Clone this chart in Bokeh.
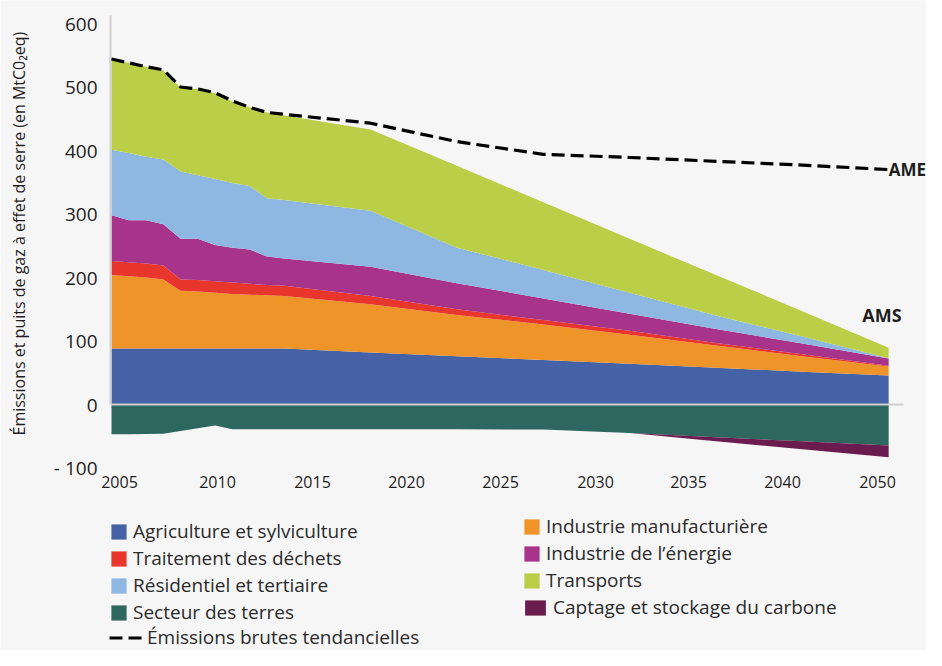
import math
from bokeh.plotting import figure
from bokeh.models import (ColumnDataSource, Range1d, FixedTicker, Legend,
                          LegendItem, Label)
from bokeh.embed import file_html
from bokeh.resources import INLINE

# ---------------- data (MtCO2eq) ----------------
YEARS = [2005, 2006, 2007, 2008, 2009, 2010, 2011, 2012, 2013, 2014, 2015,
         2020, 2025, 2030, 2035, 2040, 2045, 2050]

agriculture = [88, 88, 88, 88, 88, 88, 88, 88, 88, 88, 88, 82, 76, 70, 64, 58, 51.5, 45.5]
industrie_manuf = [116, 114, 112, 109, 91, 90, 88, 86, 85, 84, 83, 76, 65, 56, 46, 35, 24.5, 14.5]
dechets = [22, 22, 22, 22, 18, 18, 18, 18, 17, 16, 16, 13, 9, 7, 6, 4, 3, 1]
energie = [72, 66, 68, 65, 64, 65, 57, 55, 54, 45, 43, 46, 41, 34, 27, 22, 17, 11.5]
residentiel = [103, 106, 100, 102, 106, 100, 104, 102, 100, 92, 92, 88, 56, 45, 33, 21, 11, 0.5]
transports = [142, 142, 142, 140, 132, 136, 135, 128, 124, 135, 133, 128, 129, 106.5, 85, 64, 40, 16.5]

terres = [-47, -47, -46.5, -46, -41.7, -37.3, -33, -39, -39, -39, -39, -39, -39, -39.5, -45, -51.5, -58, -64.5]
captage = [0, 0, 0, 0, 0, 0, 0, 0, 0, 0, 0, 0, 0, 0, 0, -6.3, -12.5, -18.5]

ame = [544, 538, 532, 527, 500, 497, 491, 478, 468, 460, 457, 443, 414, 394, 389, 383, 377, 370]

Y_TICKS = [-100, 0, 100, 200, 300, 400, 500, 600]
Y_TICK_LABELS = ["- 100", "0", "100", "200", "300", "400", "500", "600"]
X_TICK_LABELS = ["2005", "2010", "2015", "2020", "2025", "2030", "2035", "2040", "2050"]

LABELS_POS = ["Agriculture et sylviculture", "Industrie manufacturière",
              "Traitement des déchets", "Industrie de l’énergie",
              "Résidentiel et tertiaire", "Transports"]
LABELS_NEG = ["Secteur des terres", "Captage et stockage du carbone"]
LABEL_AME = "Émissions brutes tendancielles"
Y_TITLE = "Émissions et puits de gaz à effet de serre (en MtC0₂eq)"

COLORS_POS = ["#4562a7", "#ef9428", "#e8362d", "#a8338b", "#8eb8e2", "#bace48"]
COLORS_NEG = ["#2e6660", "#6b1c4f"]

FONT = "Open Sans"
BG = "#f6f6f6"
TXT = "#1e1e1e"

# ---------------- layout (pixel geometry of the canvas) ----------------
W, H = 926, 650
X0_PX, PX_PER_YEAR = 111.0, 17.27      # pixel of year 2005, pixels per year
Y0_PX, PX_PER_UNIT = 404.0, 0.635      # pixel of value 0, pixels per MtCO2eq
X_TICK_PX = [119, 217, 312, 406, 500, 595, 688, 782, 877]


def dx(px):
    return YEARS[0] + (px - X0_PX) / PX_PER_YEAR


def dy(py):
    return (Y0_PX - py) / PX_PER_UNIT


x_tick_pos = [dx(v) for v in X_TICK_PX]

src = ColumnDataSource(dict(
    year=YEARS, agri=agriculture, manuf=industrie_manuf, dech=dechets,
    ener=energie, resi=residentiel, trans=transports,
    terres=terres, ccs=captage, ame=ame))

p = figure(width=W, height=H, output_backend="svg", toolbar_location=None,
           x_range=Range1d(dx(0), dx(W)), y_range=Range1d(dy(H), dy(0)),
           min_border=0, min_border_left=0, min_border_right=0,
           min_border_top=0, min_border_bottom=0,
           background_fill_color=BG, border_fill_color=BG, outline_line_color=None)

pos = p.varea_stack(["agri", "manuf", "dech", "ener", "resi", "trans"], x="year",
                    color=COLORS_POS, source=src)
neg = p.varea_stack(["terres", "ccs"], x="year", color=COLORS_NEG, source=src)

# axis lines: vertical from 0 to the top, zero line across the plot
axis_x = dx(110)
p.segment(x0=[axis_x], y0=[0], x1=[axis_x], y1=[dy(15)],
          line_color="#d0d0d0", line_width=2)
p.segment(x0=[axis_x], y0=[0], x1=[dx(903)], y1=[0],
          line_color="#d0d0d0", line_width=2)

ame_r = p.line(x="year", y="ame", source=src, line_color="#000000", line_width=3.2,
               line_dash="13 6")

p.xgrid.visible = False
p.ygrid.visible = False

xa = p.xaxis[0]
xa.fixed_location = Y_TICKS[0]
xa.ticker = FixedTicker(ticks=x_tick_pos)
xa.major_label_overrides = {t: l for t, l in zip(x_tick_pos, X_TICK_LABELS)}
xa.axis_line_color = None
xa.major_tick_line_color = None
xa.minor_tick_line_color = None
xa.major_tick_out = 0
xa.major_tick_in = 0
xa.major_label_standoff = 8
xa.major_label_text_font = FONT
xa.major_label_text_font_size = "16px"
xa.major_label_text_color = TXT

ya = p.yaxis[0]
ya.fixed_location = axis_x
ya.ticker = FixedTicker(ticks=Y_TICKS)
ya.major_label_overrides = {t: l for t, l in zip(Y_TICKS, Y_TICK_LABELS)}
ya.axis_line_color = None
ya.major_tick_line_color = None
ya.minor_tick_line_color = None
ya.major_tick_out = 0
ya.major_tick_in = 0
ya.major_label_standoff = 13
ya.major_label_text_font = FONT
ya.major_label_text_font_size = "19px"
ya.major_label_text_color = TXT

p.add_layout(Label(x=dx(18), y=dy(435), text=Y_TITLE, angle=math.pi / 2,
                   text_align="left", text_baseline="middle", text_font=FONT,
                   text_font_size="16px", text_color=TXT))

p.add_layout(Label(x=YEARS[-1], y=ame[-1], text="AME", x_offset=0,
                   text_baseline="middle", text_align="left", text_font=FONT,
                   text_font_style="bold", text_font_size="17px", text_color=TXT))
p.add_layout(Label(x=YEARS[-1], y=dy(314), text="AMS", x_offset=13,
                   text_baseline="middle", text_align="right", text_font=FONT,
                   text_font_style="bold", text_font_size="18px", text_color=TXT))


def make_legend(items, loc, glyph_width=19):
    return Legend(items=items, location=loc, orientation="vertical",
                  border_line_color=None, background_fill_alpha=0,
                  padding=0, margin=0, spacing=1,
                  glyph_width=glyph_width, glyph_height=19, label_height=26,
                  label_standoff=5, label_text_font=FONT,
                  label_text_font_size="19px", label_text_color="#2b2b2b")


left_items = [
    LegendItem(label=LABELS_POS[0], renderers=[pos[0]]),
    LegendItem(label=LABELS_POS[2], renderers=[pos[2]]),
    LegendItem(label=LABELS_POS[4], renderers=[pos[4]]),
    LegendItem(label=LABELS_NEG[0], renderers=[neg[0]]),
]
right_items = [
    LegendItem(label=LABELS_POS[1], renderers=[pos[1]]),
    LegendItem(label=LABELS_POS[3], renderers=[pos[3]]),
    LegendItem(label=LABELS_POS[5], renderers=[pos[5]]),
]
ccs_items = [LegendItem(label=LABELS_NEG[1], renderers=[neg[1]])]
ame_items = [LegendItem(label=LABEL_AME, renderers=[ame_r])]

p.add_layout(make_legend(left_items, (109, 25)))
p.add_layout(make_legend(ame_items, (109, 0), glyph_width=33))
p.add_layout(make_legend(right_items, (522, 57)))
p.add_layout(make_legend(ccs_items, (522, 30), glyph_width=26))

open("out.html", "w").write(file_html(p, INLINE))
